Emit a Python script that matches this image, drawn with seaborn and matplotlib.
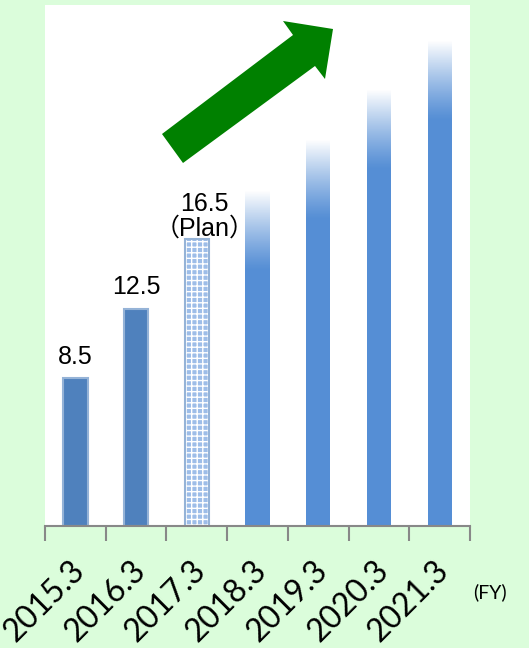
import numpy as np
import pandas as pd
import matplotlib
matplotlib.use("Agg")
import matplotlib.pyplot as plt
import matplotlib.transforms as mtransforms
import seaborn as sns
from matplotlib.patches import Polygon

# ---- data ----
categories = ["2015.3", "2016.3", "2017.3", "2018.3", "2019.3", "2020.3", "2021.3"]
values = [8.5, 12.5, 16.5, 19.3, 22.2, 25.1, 27.9]
kinds = ["actual", "actual", "plan", "future", "future", "future", "future"]
value_labels = ["8.5", "12.5", "16.5\n（Plan）", "", "", "", ""]

df = pd.DataFrame({"FY": categories, "value": values, "kind": kinds})

BG = "#DBFDDB"
ACTUAL = "#4F81BD"
EDGE = "#95B3D7"
PLAN = "#9DBDE8"
FUTURE = "#558ED5"
GREEN = "#008000"

sns.set_style("white")
plt.rcParams["font.family"] = ["Liberation Sans", "Noto Sans CJK JP", "DejaVu Sans"]
plt.rcParams["text.color"] = "black"
plt.rcParams["xtick.color"] = "black"

fig = plt.figure(figsize=(5.29, 6.48), dpi=100, facecolor=BG)
ax = fig.add_axes([45 / 529, 1 - 526 / 648, 425 / 529, 521 / 648])
ax.set_facecolor("white")

palette = [ACTUAL if k == "actual" else PLAN if k == "plan" else FUTURE for k in kinds]
sns.barplot(data=df, x="FY", y="value", hue="FY", palette=palette, legend=False,
            width=0.4, ax=ax, saturation=1)

for p, k in zip(ax.patches, kinds):
    if k == "actual":
        p.set_edgecolor(EDGE)
        p.set_linewidth(1.5)
    elif k == "plan":
        p.set_edgecolor("white")
        p.set_hatch("+++")
        p.set_linewidth(0)
        x0, w, h = p.get_x(), p.get_width(), p.get_height()
        ax.bar(x0 + w / 2, h, width=w, fill=False, edgecolor=EDGE, linewidth=1.5)
    else:
        p.set_linewidth(0)
        x0, w, h = p.get_x(), p.get_width(), p.get_height()
        fade = 4.6
        n = 256
        alpha = np.linspace(0, 1, n)[:, None] ** 1.2
        img = np.zeros((n, 1, 4))
        img[..., :3] = 1.0
        img[..., 3] = alpha
        ax.imshow(img, extent=(x0, x0 + w, h - fade, h), origin="lower",
                  aspect="auto", interpolation="bilinear", zorder=p.get_zorder() + 0.1)

ax.set_xlim(-0.5, len(categories) - 0.5)
ax.set_ylim(0, 30)

# value labels
for i, (v, lab) in enumerate(zip(values, value_labels)):
    if lab:
        multi = "\n" in lab
        off = -0.05 if multi else 0.55
        dx = 0.13 if multi else 0.0
        ax.text(i + dx, v + off, lab, ha="center", va="bottom", fontsize=18,
                color="black", linespacing=1.0)

# axes styling
for s in ["top", "right", "left"]:
    ax.spines[s].set_visible(False)
ax.spines["bottom"].set_color("#888888")
ax.spines["bottom"].set_linewidth(1.5)
ax.set_yticks([])
ax.set_xlabel("")
ax.set_ylabel("")
ax.set_xticks(range(len(categories)))
ax.set_xticklabels(categories, rotation=45, ha="right", rotation_mode="anchor",
                   fontsize=23, family=["Lato", "DejaVu Sans"], color="black")
ax.tick_params(axis="x", which="major", length=0, pad=21, bottom=True)
shift = mtransforms.ScaledTranslation(-6 / 100, 0, fig.dpi_scale_trans)
for lbl in ax.get_xticklabels():
    lbl.set_transform(lbl.get_transform() + shift)
ax.set_xticks(np.arange(-0.5, len(categories)), minor=True)
ax.tick_params(axis="x", which="minor", length=11, width=1.5, color="#888888",
               direction="out", bottom=True)

fig.text(473 / 529, 1 - 592 / 648, "(FY)", fontsize=14, va="center", ha="left",
         family=["Lato", "DejaVu Sans"], color="black")

# decorative arrow (pixel coords of the reference)
arrow_px = [(162, 134), (293, 35), (283, 21), (333, 29), (325, 79), (315, 66), (183, 163)]
verts = [(x / 529, 1 - y / 648) for x, y in arrow_px]
fig.patches.append(Polygon(verts, closed=True, facecolor=GREEN, edgecolor="none",
                           transform=fig.transFigure, figure=fig))

fig.savefig("out.png", dpi=100, facecolor=BG)
